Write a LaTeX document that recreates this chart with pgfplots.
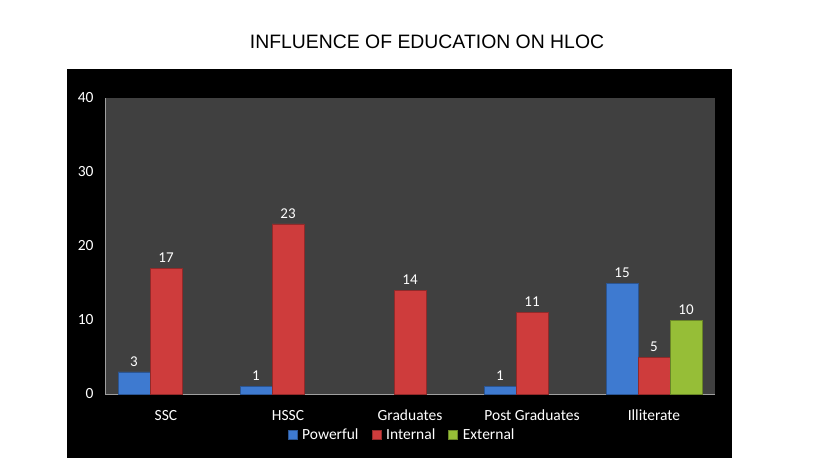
\documentclass[border=0pt]{standalone}
\usepackage{pgfplots}
\pgfplotsset{compat=1.18}
\usepackage{fontspec}
\setmainfont{Carlito}
\newfontfamily\titlefont{Liberation Sans}
\definecolor{plotbg}{HTML}{404040}
\definecolor{cpow}{RGB}{62,122,208}
\definecolor{cint}{RGB}{206,60,60}
\definecolor{cext}{RGB}{150,190,55}
\pgfplotsset{
  xlbar/.style={fill=#1, draw=#1!70!black, line width=0.6pt},
}
\begin{document}
\begin{tikzpicture}[x=1pt,y=1pt]
  \useasboundingbox (0,0) rectangle (819,-460);
  \fill[white] (0,0) rectangle (819,-460);
  \fill[black] (67,-69) rectangle (732,-458);
  \node[font=\titlefont\fontsize{19.4}{22}\selectfont] at (427,-42) {INFLUENCE OF EDUCATION ON HLOC};
  \begin{axis}[
    at={(105pt,-394pt)}, anchor=south west,
    scale only axis, width=610pt, height=296pt,
    axis background/.style={fill=plotbg},
    axis x line*=bottom, axis y line*=left,
    axis line style={gray!75, line width=1pt},
    major tick length=0pt,
    ybar=0pt, bar width=32pt,
    xmin=-0.5, xmax=4.5, ymin=0, ymax=40,
    xtick={0,1,2,3,4},
    xticklabels={SSC,HSSC,Graduates,Post Graduates,Illiterate},
    ytick={0,10,20,30,40},
    /pgf/number format/assume math mode=true,
    ticklabel style={font=\fontsize{15.5}{18}\selectfont, text=white},
    yticklabel style={xshift=-8pt},
    xticklabel style={yshift=-12pt, text height=11pt, text depth=3pt},
    nodes near coords,
    every node near coord/.append style={font=\fontsize{15}{18}\selectfont, text=white, yshift=2pt},
    legend columns=3,
    legend style={draw=none, fill=none, text=white, font=\fontsize{15.5}{18}\selectfont,
      at={(0.487,-0.139)}, anchor=center,
      /tikz/every odd column/.append style={column sep=3pt},
      /tikz/every even column/.append style={column sep=11pt}},
    legend image code/.code={\path[#1] (0pt,-4pt) rectangle (9pt,5pt);},
  ]
    \addplot[xlbar=cpow] coordinates {(0,3) (1,1) (3,1) (4,15)};
    \addplot[xlbar=cint] coordinates {(0,17) (1,23) (2,14) (3,11) (4,5)};
    \addplot[xlbar=cext] coordinates {(4,10)};
    \legend{Powerful,Internal,External}
  \end{axis}
\end{tikzpicture}
\end{document}
